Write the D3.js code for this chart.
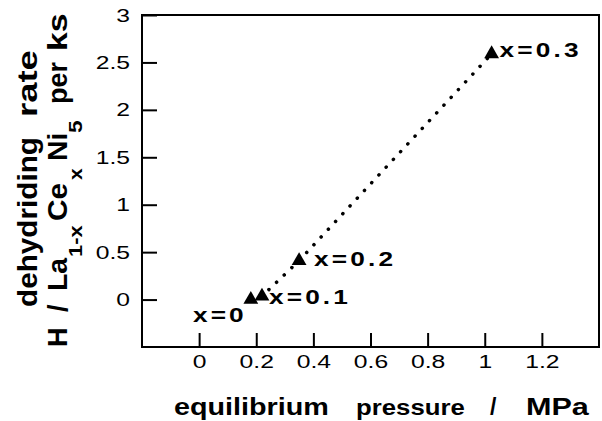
<!DOCTYPE html>
<html>
<head>
<meta charset="utf-8">
<script src="https://cdn.jsdelivr.net/npm/d3@7"></script>
<style>
  body { margin: 0; background: #fff; }
  svg { display: block; font-family: "Liberation Sans", Arial, Helvetica, sans-serif; }
  .tick line { stroke: #000; stroke-width: 2; }
  .tick text { font-size: 19px; fill: #000; }
  .pt-label { font-size: 21px; font-weight: bold; letter-spacing: 2.5px; }
  .title { font-weight: bold; }
</style>
</head>
<body>
<script>
// data
const pressure = [0.181, 0.22, 0.35, 1.024];     // MPa
const rate = [0, 0.035, 0.41, 2.59];              // H / La(1-x)Ce(x)Ni5 per ks
const pointLabels = ['x=0', 'x=0.1', 'x=0.2', 'x=0.3'];
const xTicks = [0, 0.2, 0.4, 0.6, 0.8, 1, 1.2];
const xTickLabels = ['0', '0.2', '0.4', '0.6', '0.8', '1', '1.2'];
const yTicks = [0, 0.5, 1, 1.5, 2, 2.5, 3];
const yTickLabels = ['0', '0.5', '1', '1.5', '2', '2.5', '3'];

// label placement relative to each marker (anchor, dx, dy)
const labelPlace = [
  ['end', -4, 22],
  ['start', 7, 8],
  ['start', 15, 5],
  ['start', 8, 3]
];

// the original lettering is wide, so text is widened horizontally
const stretch = 1.3;        // tick digits
const labelStretch = 1.25;  // point labels

const W = 602, H = 421;
const plot = { left: 142, right: 599, top: 15, bottom: 347 };

const svg = d3.select('body').append('svg')
  .attr('width', W)
  .attr('height', H);

const x = d3.scaleLinear().domain([-0.2, 1.4]).range([plot.left, plot.right]);
const y = d3.scaleLinear().domain([-0.5, 3]).range([plot.bottom, plot.top]);

// axes with inward ticks
const xAxis = svg.append('g')
  .attr('transform', `translate(0,${plot.bottom})`)
  .call(d3.axisBottom(x)
    .tickValues(xTicks)
    .tickFormat((d, i) => xTickLabels[i])
    .tickSizeInner(-14)
    .tickSizeOuter(0)
    .tickPadding(8));
xAxis.select('.domain').remove();
xAxis.attr('font-family', null).attr('font-size', null);
xAxis.selectAll('.tick text').attr('transform', `scale(${stretch},1)`);

const yAxis = svg.append('g')
  .attr('transform', `translate(${plot.left},0)`)
  .call(d3.axisLeft(y)
    .tickValues(yTicks)
    .tickFormat((d, i) => yTickLabels[i])
    .tickSizeInner(-15)
    .tickSizeOuter(0)
    .tickPadding(9));
yAxis.select('.domain').remove();
yAxis.attr('font-family', null).attr('font-size', null);
yAxis.selectAll('.tick text')
  .attr('x', -12 / stretch)
  .attr('transform', `scale(${stretch},1)`);

// frame
svg.append('rect')
  .attr('x', plot.left)
  .attr('y', plot.top)
  .attr('width', plot.right - plot.left)
  .attr('height', plot.bottom - plot.top)
  .attr('fill', 'none')
  .attr('stroke', '#000')
  .attr('stroke-width', 2);

// dotted connecting line
const line = d3.line()
  .x((d, i) => x(pressure[i]))
  .y((d, i) => y(rate[i]));

svg.append('path')
  .datum(pressure)
  .attr('d', line)
  .attr('fill', 'none')
  .attr('stroke', '#000')
  .attr('stroke-width', 3.5)
  .attr('stroke-linecap', 'round')
  .attr('stroke-dasharray', '0.1,10.5');

// triangle markers
svg.selectAll('.pt')
  .data(pressure)
  .enter()
  .append('path')
  .attr('class', 'pt')
  .attr('d', d3.symbol(d3.symbolTriangle, 95))
  .attr('transform', (d, i) => `translate(${x(d)},${y(rate[i])})`)
  .attr('fill', '#000');

// point labels
svg.selectAll('.pt-label')
  .data(pointLabels)
  .enter()
  .append('text')
  .attr('class', 'pt-label')
  .attr('transform', (d, i) =>
    `translate(${x(pressure[i]) + labelPlace[i][1]},${y(rate[i]) + labelPlace[i][2]}) scale(${labelStretch},1)`)
  .attr('text-anchor', (d, i) => labelPlace[i][0])
  .text(d => d);

// x axis title, word by word: [text, start x, horizontal widening]
const xTitle = [
  ['equilibrium', 174, 1.25],
  ['pressure', 356, 1.12],
  ['/', 490, 1],
  ['MPa', 526, 1.33]
];
svg.selectAll('.xtitle')
  .data(xTitle)
  .enter()
  .append('text')
  .attr('class', 'title xtitle')
  .attr('transform', d => `translate(${d[1]},415) scale(${d[2]},1)`)
  .style('font-size', '23px')
  .text(d => d[0]);

// y axis title, two rotated lines: [text, start y, widening along text, baseline x, size]
const yTitle = [
  ['dehydriding', 307, 1.1, 37, 27],
  ['rate', 117, 1.35, 37, 27],
  ['H', 347, 1, 67, 27],
  ['/', 312, 1, 67, 27],
  ['La', 291, 1.05, 67, 27],
  ['1-x', 257, 1.15, 82, 19],
  ['Ce', 221, 1.1, 67, 27],
  ['x', 180, 1.1, 82, 19],
  ['Ni', 161, 1.05, 67, 27],
  ['5', 133, 1.2, 82, 19],
  ['per', 104, 1, 67, 27],
  ['ks', 51, 1.25, 67, 27]
];
svg.selectAll('.ytitle')
  .data(yTitle)
  .enter()
  .append('text')
  .attr('class', 'title ytitle')
  .attr('transform', d => `translate(${d[3]},${d[1]}) rotate(-90) scale(${d[2]},1)`)
  .style('font-size', d => d[4] + 'px')
  .text(d => d[0]);
</script>
</body>
</html>
